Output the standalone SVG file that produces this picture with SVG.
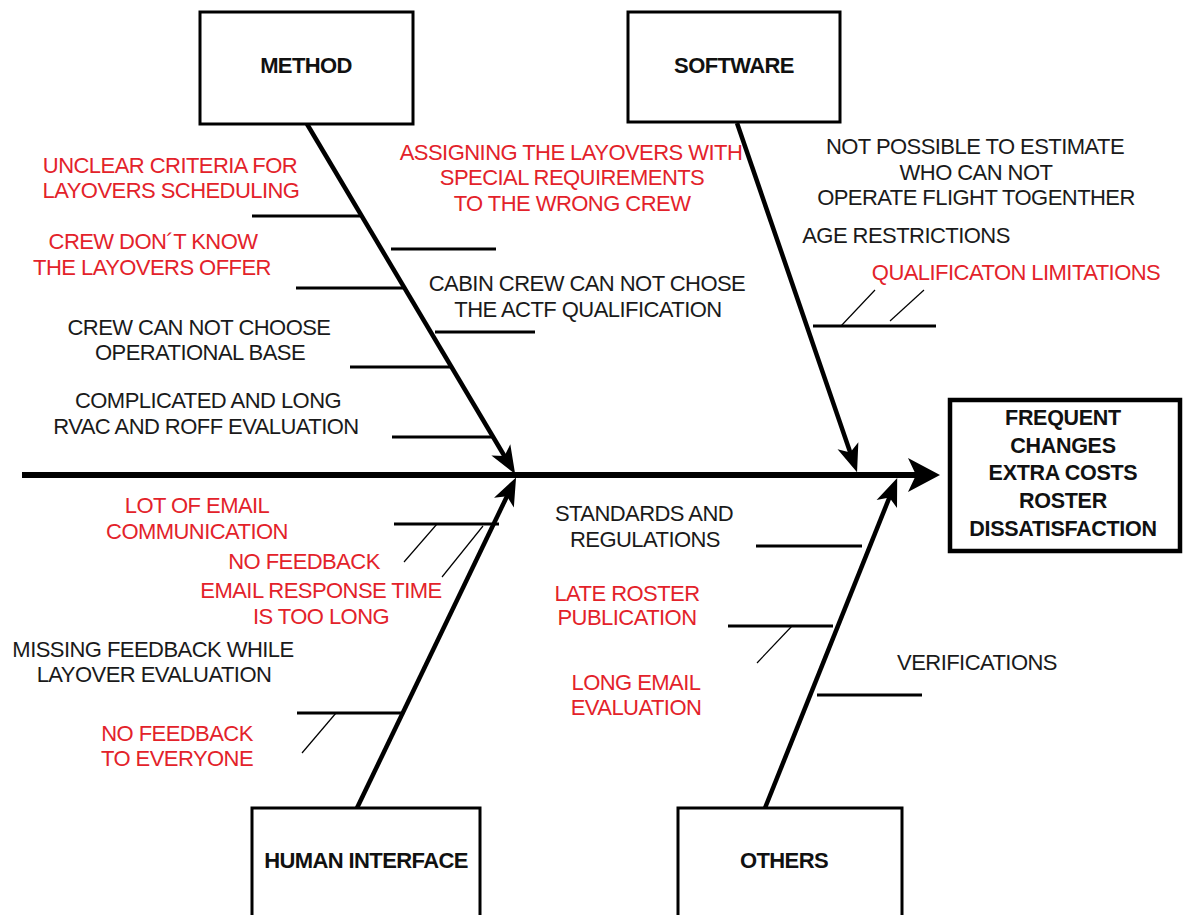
<svg xmlns="http://www.w3.org/2000/svg" width="1183" height="915" viewBox="0 0 1183 915">
  <defs>
    <style>
      .box { fill: #ffffff; stroke: #000; stroke-width: 3; }
      .effect { fill: #ffffff; stroke: #000; stroke-width: 4.5; }
      .title { font-family: "Liberation Sans", Arial, sans-serif; font-weight: bold; font-size: 22px; letter-spacing: -0.6px; fill: #111; text-anchor: middle; }
      .etitle { font-size: 21.5px; letter-spacing: -0.3px; }
      .lbl { font-family: "Liberation Sans", Arial, sans-serif; font-size: 22px; letter-spacing: -0.55px; text-anchor: middle; }
      .blk { fill: #1a1a1a; }
      .red { fill: #e3222a; }
      .bone { stroke: #000; stroke-width: 4.5; fill: none; }
      .spine { stroke: #000; stroke-width: 6; fill: none; }
      .sub { stroke: #000; stroke-width: 3; fill: none; }
      .tick { stroke: #000; stroke-width: 1.2; fill: none; }
    </style>
    <marker id="headBone" markerUnits="userSpaceOnUse" markerWidth="40" markerHeight="40" viewBox="-20 -20 40 40" refX="0" refY="0" orient="auto" overflow="visible">
      <path d="M14,0 L-14,-11 L-7,0 L-14,11 Z" fill="#000"/>
    </marker>
    <marker id="headSpine" markerUnits="userSpaceOnUse" markerWidth="50" markerHeight="50" viewBox="-25 -25 50 50" refX="0" refY="0" orient="auto" overflow="visible">
      <path d="M18,0 L-14,-17 L-6,0 L-14,17 Z" fill="#000"/>
    </marker>
  </defs>

  <rect width="1183" height="915" fill="#ffffff"/>

  <!-- connectors: spine, category bones, sub-causes -->
  <g id="connectors">
    <line class="spine" x1="22" y1="475" x2="922" y2="475" marker-end="url(#headSpine)"/>
    <line class="bone" x1="307" y1="124" x2="508" y2="462" marker-end="url(#headBone)"/>
    <line class="bone" x1="737" y1="123" x2="852.5" y2="459" marker-end="url(#headBone)"/>
    <line class="bone" x1="357" y1="808" x2="510" y2="490" marker-end="url(#headBone)"/>
    <line class="bone" x1="765" y1="808" x2="892" y2="491" marker-end="url(#headBone)"/>

    <!-- method sub-causes -->
    <line class="sub" x1="252" y1="216" x2="360" y2="216"/>
    <line class="sub" x1="391" y1="249" x2="496" y2="249"/>
    <line class="sub" x1="296" y1="288" x2="403" y2="288"/>
    <line class="sub" x1="435" y1="332" x2="535" y2="332"/>
    <line class="sub" x1="350" y1="367" x2="451" y2="367"/>
    <line class="sub" x1="392" y1="437" x2="493" y2="437"/>

    <!-- software sub-causes -->
    <line class="sub" x1="813" y1="326" x2="936" y2="326"/>
    <line class="tick" x1="841" y1="326" x2="875" y2="290"/>
    <line class="tick" x1="890" y1="321" x2="924" y2="290"/>

    <!-- human interface sub-causes -->
    <line class="sub" x1="394" y1="524" x2="499" y2="524"/>
    <line class="tick" x1="437" y1="524" x2="404" y2="562"/>
    <line class="tick" x1="483" y1="526" x2="442" y2="577"/>
    <line class="sub" x1="297" y1="713" x2="402" y2="713"/>
    <line class="tick" x1="336" y1="713" x2="302" y2="753"/>

    <!-- others sub-causes -->
    <line class="sub" x1="756" y1="546" x2="862" y2="546"/>
    <line class="sub" x1="728" y1="626" x2="833" y2="626"/>
    <line class="tick" x1="792" y1="626" x2="757" y2="663"/>
    <line class="sub" x1="817" y1="695" x2="922" y2="695"/>
  </g>

  <g id="method">
    <rect class="box" x="200" y="12" width="213" height="112"/>
    <text class="title" x="306" y="73">METHOD</text>
  </g>

  <g id="software">
    <rect class="box" x="628" y="12" width="212" height="110"/>
    <text class="title" x="734" y="73">SOFTWARE</text>
  </g>

  <g id="human-interface">
    <rect class="box" x="252" y="808" width="228" height="130"/>
    <text class="title" x="366" y="868">HUMAN INTERFACE</text>
  </g>

  <g id="others">
    <rect class="box" x="678" y="808" width="224" height="130"/>
    <text class="title" x="784" y="868">OTHERS</text>
  </g>

  <g id="effect">
    <rect class="effect" x="950" y="400" width="230" height="151"/>
    <text class="title etitle" x="1063" y="425">FREQUENT</text>
    <text class="title etitle" x="1063" y="452.5">CHANGES</text>
    <text class="title etitle" x="1063" y="480">EXTRA COSTS</text>
    <text class="title etitle" x="1063" y="508">ROSTER</text>
    <text class="title etitle" x="1063" y="535.5">DISSATISFACTION</text>
  </g>

  <g id="method-causes">
    <text class="lbl red" x="170" y="173">UNCLEAR CRITERIA FOR</text>
    <text class="lbl red" x="171" y="198">LAYOVERS SCHEDULING</text>
    <text class="lbl red" x="153" y="249">CREW DON´T KNOW</text>
    <text class="lbl red" x="152" y="275">THE LAYOVERS OFFER</text>
    <text class="lbl red" x="571" y="160">ASSIGNING THE LAYOVERS WITH</text>
    <text class="lbl red" x="572" y="185">SPECIAL REQUIREMENTS</text>
    <text class="lbl red" x="572" y="211">TO THE WRONG CREW</text>
    <text class="lbl blk" x="587" y="291">CABIN CREW CAN NOT CHOSE</text>
    <text class="lbl blk" x="588" y="317">THE ACTF QUALIFICATION</text>
    <text class="lbl blk" x="199" y="335">CREW CAN NOT CHOOSE</text>
    <text class="lbl blk" x="200" y="360">OPERATIONAL BASE</text>
    <text class="lbl blk" x="208" y="408">COMPLICATED AND LONG</text>
    <text class="lbl blk" x="206" y="434">RVAC AND ROFF EVALUATION</text>
  </g>

  <g id="software-causes">
    <text class="lbl blk" x="975" y="154">NOT POSSIBLE TO ESTIMATE</text>
    <text class="lbl blk" x="976" y="180">WHO CAN NOT</text>
    <text class="lbl blk" x="976" y="205">OPERATE FLIGHT TOGENTHER</text>
    <text class="lbl blk" x="906" y="243">AGE RESTRICTIONS</text>
    <text class="lbl red" x="1016" y="280">QUALIFICATON LIMITATIONS</text>
  </g>

  <g id="human-causes">
    <text class="lbl red" x="197" y="513">LOT OF EMAIL</text>
    <text class="lbl red" x="197" y="539">COMMUNICATION</text>
    <text class="lbl red" x="304" y="569">NO FEEDBACK</text>
    <text class="lbl red" x="321" y="598">EMAIL RESPONSE TIME</text>
    <text class="lbl red" x="321" y="624">IS TOO LONG</text>
    <text class="lbl blk" x="153" y="657">MISSING FEEDBACK WHILE</text>
    <text class="lbl blk" x="154" y="682">LAYOVER EVALUATION</text>
    <text class="lbl red" x="177" y="741">NO FEEDBACK</text>
    <text class="lbl red" x="177" y="766">TO EVERYONE</text>
  </g>

  <g id="other-causes">
    <text class="lbl blk" x="644" y="521">STANDARDS AND</text>
    <text class="lbl blk" x="645" y="547">REGULATIONS</text>
    <text class="lbl red" x="627" y="601">LATE ROSTER</text>
    <text class="lbl red" x="627" y="625">PUBLICATION</text>
    <text class="lbl red" x="636" y="690">LONG EMAIL</text>
    <text class="lbl red" x="636" y="715">EVALUATION</text>
    <text class="lbl blk" x="977" y="670">VERIFICATIONS</text>
  </g>
</svg>
